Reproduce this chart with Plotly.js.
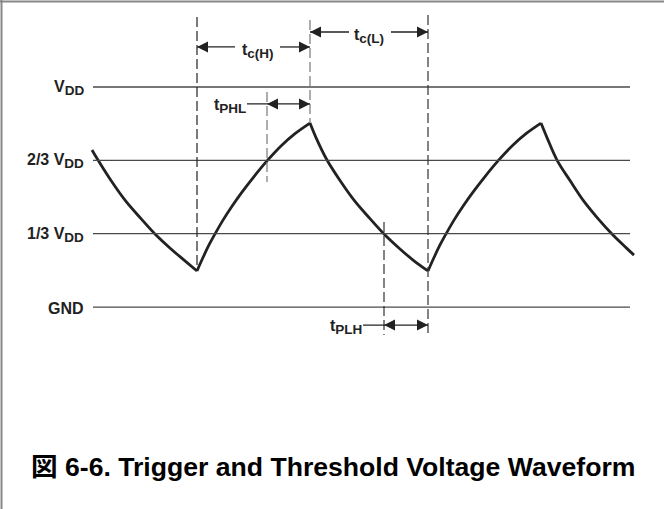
<!DOCTYPE html>
<html>
<head>
<meta charset="utf-8">
<script src="https://cdn.plot.ly/plotly-3.0.1.min.js"></script>
<style>html,body{margin:0;padding:0;background:#fff}#chart{width:664px;height:509px}</style>
</head>
<body>
<div id="chart"></div>
<script>
// ---- data (time in arbitrary units, voltage as a fraction of VDD) ----
var waveT = [0, 0.6, 1.9, 3.4, 4.9, 6.3, 7.9, 9.3, 10.5,
             11.1, 11.7, 12.3, 13.1, 14.0, 15.0, 16.2, 17.5, 18.9, 20.3, 21.8,
             22.4, 23.5, 24.8, 26.3, 27.8, 29.2, 30.8, 32.2, 33.6,
             34.2, 34.8, 35.4, 36.2, 37.1, 38.1, 39.3, 40.6, 42.0, 43.4, 44.9,
             45.5, 46.5, 47.8, 49.2, 50.6, 52.0, 53.4, 54.2];
var waveV = [0.714, 0.668, 0.575, 0.48, 0.402, 0.332, 0.264, 0.21, 0.164,
             0.225, 0.282, 0.332, 0.395, 0.458, 0.522, 0.593, 0.664, 0.732, 0.788, 0.836,
             0.77, 0.668, 0.575, 0.48, 0.402, 0.332, 0.264, 0.21, 0.164,
             0.225, 0.282, 0.332, 0.395, 0.458, 0.522, 0.593, 0.664, 0.732, 0.788, 0.836,
             0.77, 0.668, 0.575, 0.48, 0.402, 0.332, 0.27, 0.236];
var levelValues = [1, 2/3, 1/3, 0];
var levelLabels = ['V<sub><span style="font-size:13.5px">DD</span></sub>',
                   '2/3 V<sub><span style="font-size:13.5px">DD</span></sub>',
                   '1/3 V<sub><span style="font-size:13.5px">DD</span></sub>', 'GND'];
var levelStartT = 0.1, levelEndT = 53.8;
// key instants
var tMin1 = 10.5, tPeak1 = 21.8, tCross23 = 17.5, tCross13 = 29.2, tMin2 = 33.6;
var timingLabels = ['t<sub><span style="font-size:13.5px">c(H)</span></sub>',
                    't<sub><span style="font-size:13.5px">c(L)</span></sub>',
                    't<sub><span style="font-size:13.5px">PHL</span></sub>',
                    't<sub><span style="font-size:13.5px">PLH</span></sub>'];
var captionText = '図 6-6. Trigger and Threshold Voltage Waveform';

// ---- split waveform at cusps ----
var traces = [];
var start = 0;
for (var i = 1; i < waveT.length; i++) {
  var last = (i === waveT.length - 1);
  var cusp = !last && ((waveV[i] - waveV[i-1]) * (waveV[i+1] - waveV[i]) < 0);
  if (cusp || last) {
    traces.push({
      x: waveT.slice(start, i + 1), y: waveV.slice(start, i + 1),
      mode: 'lines', type: 'scatter', hoverinfo: 'skip',
      line: {color: '#222', width: 2.8, shape: 'spline', smoothing: 1}
    });
    start = i;
  }
}

// dimension-line rows (y positions are layout only)
var yCH = 1.182, yCL = 1.25, yPHL = 0.923, yPLH = -0.082;

var shapes = [];
levelValues.forEach(function (v) {
  shapes.push({type: 'line', xref: 'x', yref: 'y', x0: levelStartT, x1: levelEndT, y0: v, y1: v,
               line: {color: '#4a4a4a', width: 1.3}});
});
function vdash(t, y0, y1, col) {
  shapes.push({type: 'line', xref: 'x', yref: 'y', x0: t, x1: t, y0: y0, y1: y1,
               line: {color: col, width: 1.2, dash: '10px,4px'}});
}
vdash(tMin1, 1.318, 0.164, '#222');
vdash(tPeak1, 1.305, 0.836, '#777');
vdash(tCross23, 0.977, 0.568, '#777');
vdash(tMin2, 1.327, -0.127, '#333');
vdash(tCross13, 0.386, -0.127, '#333');
function hline(x0, x1, y) {
  shapes.push({type: 'line', xref: 'x', yref: 'y', x0: x0, x1: x1, y0: y, y1: y, line: {color: '#222', width: 1.3}});
}
hline(tMin1, 14.3, yCH); hline(18.8, tPeak1, yCH);
hline(tPeak1, 25.7, yCL); hline(29.9, tMin2, yCL);
hline(15.5, tPeak1, yPHL);
hline(27.1, tMin2, yPLH);
// frame (top and left)
shapes.push({type: 'line', xref: 'paper', yref: 'paper', x0: 0, x1: 1, y0: 1 - 1.5/509, y1: 1 - 1.5/509, line: {color: '#888', width: 2}});
shapes.push({type: 'line', xref: 'paper', yref: 'paper', x0: 1.5/664, x1: 1.5/664, y0: 0, y1: 1, line: {color: '#888', width: 2}});

// arrowheads (tips sit exactly on the reference instants)
traces.push({
  type: 'scatter', mode: 'markers', hoverinfo: 'skip',
  x: [tMin1, tPeak1, tPeak1, tMin2, tCross23, tPeak1, tCross13, tMin2],
  y: [yCH, yCH, yCL, yCL, yPHL, yPHL, yPLH, yPLH],
  marker: {symbol: ['arrow-left', 'arrow-right', 'arrow-left', 'arrow-right', 'arrow-left', 'arrow-right', 'arrow-left', 'arrow-right'],
           size: 11, color: '#222', line: {width: 0}}
});

var F = 'Liberation Sans, Arial, Helvetica, sans-serif';
var ann = [];
levelValues.forEach(function (v, k) {
  ann.push({x: -0.6, y: v, xref: 'x', yref: 'y', xanchor: 'right', yanchor: 'middle', yshift: -1,
            text: levelLabels[k], showarrow: false, font: {family: F, size: 16, color: '#222', weight: 'bold'}});
});
function lab(x, y, txt, xa) {
  ann.push({x: x, y: y, xref: 'x', yref: 'y', xanchor: xa, yanchor: 'middle', text: txt, showarrow: false,
            font: {family: F, size: 16, color: '#222', weight: 'bold'}});
}
lab(16.6, yCH - 0.017, timingLabels[0], 'center');
lab(27.7, yCL - 0.017, timingLabels[1], 'center');
lab(15.6, yPHL - 0.011, timingLabels[2], 'right');
lab(27.2, yPLH - 0.011, timingLabels[3], 'right');
ann.push({x: 29/664, y: 1 - 467/509, xref: 'paper', yref: 'paper', xanchor: 'left', yanchor: 'middle',
          text: captionText, showarrow: false,
          font: {family: 'Liberation Sans, Noto Sans CJK JP, Arial, sans-serif', size: 26.6, color: '#000', weight: 'bold'}});

var layout = {
  width: 664, height: 509, margin: {l: 0, r: 0, t: 0, b: 0},
  paper_bgcolor: '#fff', plot_bgcolor: '#fff', showlegend: false,
  xaxis: {range: [-9.2, 57.2], visible: false, fixedrange: true},
  yaxis: {range: [-0.918, 1.3955], visible: false, fixedrange: true},
  shapes: shapes, annotations: ann
};
Plotly.newPlot('chart', traces, layout, {staticPlot: true, displayModeBar: false});
</script>
</body>
</html>
